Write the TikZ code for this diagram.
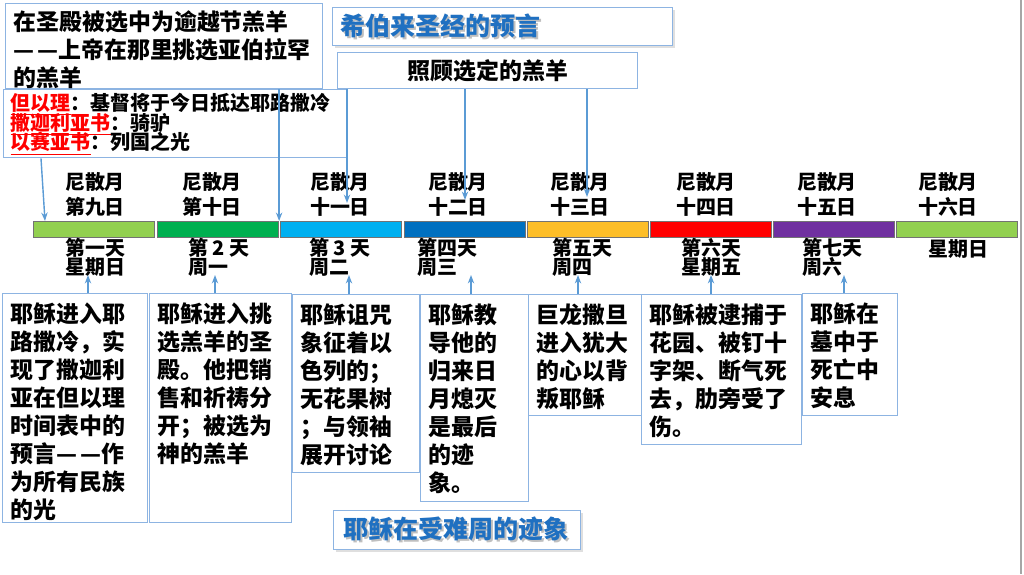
\documentclass[tikz,border=0pt]{standalone}
\usepackage{fontspec}
\setmainfont{Noto Sans CJK SC}
\usepackage{color}
\usetikzlibrary{arrows.meta,shadows}

\newlength\pxu
\setlength\pxu{0.025cm}
\setlength\lineskiplimit{-30pt}

\definecolor{boxline}{RGB}{141,180,226}
\definecolor{titleblue}{RGB}{31,112,193}
\definecolor{linkblue}{RGB}{91,155,213}
\definecolor{daylime}{RGB}{146,208,80}
\definecolor{daygreen}{RGB}{0,176,80}
\definecolor{daysky}{RGB}{0,176,240}
\definecolor{daysea}{RGB}{0,112,192}
\definecolor{daygold}{RGB}{253,190,40}
\definecolor{dayred}{RGB}{255,0,0}
\definecolor{daypurple}{RGB}{112,48,160}

\newcommand\boxtext[3]{\parbox[c][#2\pxu][t]{#1\pxu}{\lineskiplimit=-30pt #3}}
\newcommand\shadetext[1]{\makebox[0pt][l]{\hspace{1.2pt}\raisebox{-1.4pt}{\color{black!25}#1}}#1}
\newcommand\prophet[1]{{\color{red}\underline{#1}}}

\tikzset{
  card/.style={draw=boxline, line width=1pt, fill=white, inner xsep=8\pxu, inner ysep=9\pxu,
    anchor=north west, font=\bfseries\fontsize{16.3}{19.9}\selectfont},
  heading/.style={draw=boxline, line width=1pt, fill=white, anchor=north west,
    drop shadow={opacity=0.25, shadow xshift=1.5pt, shadow yshift=-1.5pt},
    inner ysep=0pt, align=left, font=\bfseries\fontsize{17.8}{20}\selectfont, text=titleblue},
  dayseg/.style={draw=black!55, line width=0.8pt, minimum width=121\pxu, minimum height=16\pxu,
    anchor=north west, inner sep=0pt},
  daytop/.style={align=center, inner sep=0pt, font=\bfseries\fontsize{14.2}{17.7}\selectfont},
  daybot/.style={align=left, anchor=west, inner sep=0pt, font=\bfseries\fontsize{14.2}{13.5}\selectfont},
  link/.style={draw=linkblue, line width=1pt, -{Stealth[length=6pt,width=4.5pt]}}
}

\begin{document}
\begin{tikzpicture}[x=0.025cm, y=-0.025cm]
\useasboundingbox (0,0) rectangle (1024,574);
\draw[black!35, line width=1pt] (1021,0) -- (1021,574);

\node (lamb) [card, inner ysep=7\pxu] at (5,3) {\boxtext{301}{71}{%
在圣殿被选中为逾越节羔羊\\—\kern0.12em—上帝在那里挑选亚伯拉罕\\的羔羊}};
\node (prophecy) [card, inner xsep=7\pxu, inner ysep=3\pxu, font=\bfseries\fontsize{14.2}{14.2}\selectfont] at (3,89) {\boxtext{330}{62}{%
\prophet{但以理}：基督将于今日抵达耶路撒冷\\
\prophet{撒迦利亚书}：骑驴\\
\prophet{以赛亚书}：列国之光}};
\node (hebrew) [heading, inner xsep=8\pxu, text width=324\pxu, minimum height=38\pxu] at (332,7) {\shadetext{希伯来圣经的预言}};
\node (care) [card, inner sep=0pt, align=center, text width=300\pxu, minimum height=36\pxu] at (337,52) {照顾选定的羔羊};
\node (passion) [heading, inner xsep=10\pxu, text width=227\pxu, minimum height=39\pxu] at (333,510) {\shadetext{耶稣在受难周的迹象}};

\node (s1) [dayseg, fill=daylime] at (33,221) {};
\node (s2) [dayseg, fill=daygreen] at (157,221) {};
\node (s3) [dayseg, fill=daysky] at (280,221) {};
\node (s4) [dayseg, fill=daysea] at (404,221) {};
\node (s5) [dayseg, fill=daygold] at (527,221) {};
\node (s6) [dayseg, fill=dayred] at (650,221) {};
\node (s7) [dayseg, fill=daypurple] at (773,221) {};
\node (s8) [dayseg, fill=daylime] at (896,221) {};

\node (d1) [daytop] at (95,194.5) {尼散月\\第九日};
\node (d2) [daytop] at (212,194.5) {尼散月\\第十日};
\node (d3) [daytop] at (340,194.5) {尼散月\\十一日};
\node (d4) [daytop] at (458,194.5) {尼散月\\十二日};
\node (d5) [daytop] at (580,194.5) {尼散月\\十三日};
\node (d6) [daytop] at (706,194.5) {尼散月\\十四日};
\node (d7) [daytop] at (827,194.5) {尼散月\\十五日};
\node (d8) [daytop] at (948,194.5) {尼散月\\十六日};

\node (e1) [daybot] at (65,257.5) {第一天\\星期日};
\node (e2) [daybot] at (188,257.5) {第 2 天\\周一};
\node (e3) [daybot] at (309,257.5) {第 3 天\\周二};
\node (e4) [daybot] at (417,257.5) {第四天\\周三};
\node (e5) [daybot] at (552,257.5) {第五天\\周四};
\node (e6) [daybot] at (681,257.5) {第六天\\星期五};
\node (e7) [daybot] at (802,257.5) {第七天\\周六};
\node (e8) [daybot] at (928,249) {星期日};

\node (b1) [card] at (2,293) {\boxtext{129}{211}{%
耶稣进入耶\\路撒冷，实\\现了撒迦利\\亚在但以理\\时间表中的\\预言—\kern0.12em—作\\为所有民族\\的光}};
\node (b2) [card] at (149,293) {\boxtext{126}{211}{%
耶稣进入挑\\选羔羊的圣\\殿。他把销\\售和祈祷分\\开；被选为\\神的羔羊}};
\node (b3) [card] at (292,294) {\boxtext{111}{160}{%
耶稣诅咒\\象征着以\\色列的；\\无花果树\\；与领袖\\展开讨论}};
\node (b4) [card] at (420,294) {\boxtext{92}{189}{%
耶稣教\\导他的\\归来日\\月熄灭\\是最后\\的迹\\象。}};
\node (b5) [card] at (528,294) {\boxtext{97}{103}{%
巨龙撒旦\\进入犹大\\的心以背\\叛耶稣}};
\node (b6) [card] at (641,294) {\boxtext{144}{132}{%
耶稣被逮捕于\\花园、被钉十\\字架、断气死\\去，肋旁受了\\伤。}};
\node (b7) [card] at (802,293) {\boxtext{79}{104}{%
耶稣在\\墓中于\\死亡中\\安息}};

\coordinate (c3) at (347,203);
\coordinate (c4) at (465,200);
\coordinate (c5) at (587,197);
\coordinate (u1) at (88,275);
\coordinate (u2) at (215,275);
\coordinate (u3) at (349,275);
\coordinate (u4) at (471,275);
\coordinate (u5) at (578,275);
\coordinate (u6) at (711,275);
\coordinate (u7) at (844,275);

\draw[link] ([xshift=38\pxu]prophecy.south west) -- ([xshift=12\pxu]s1.north west);
\draw[link] (s2.north east |- lamb.south) -- (s2.north east);
\draw[link] (care.south -| c3) -- (c3);
\draw[link] (care.south -| c4) -- (c4);
\draw[link] (care.south -| c5) -- (c5);
\draw[link] (b1.north -| u1) -- (u1);
\draw[link] (b2.north -| u2) -- (u2);
\draw[link] (b3.north -| u3) -- (u3);
\draw[link] (b4.north -| u4) -- (u4);
\draw[link] (b5.north -| u5) -- (u5);
\draw[link] (b6.north -| u6) -- (u6);
\draw[link] (b7.north -| u7) -- (u7);
\end{tikzpicture}
\end{document}
